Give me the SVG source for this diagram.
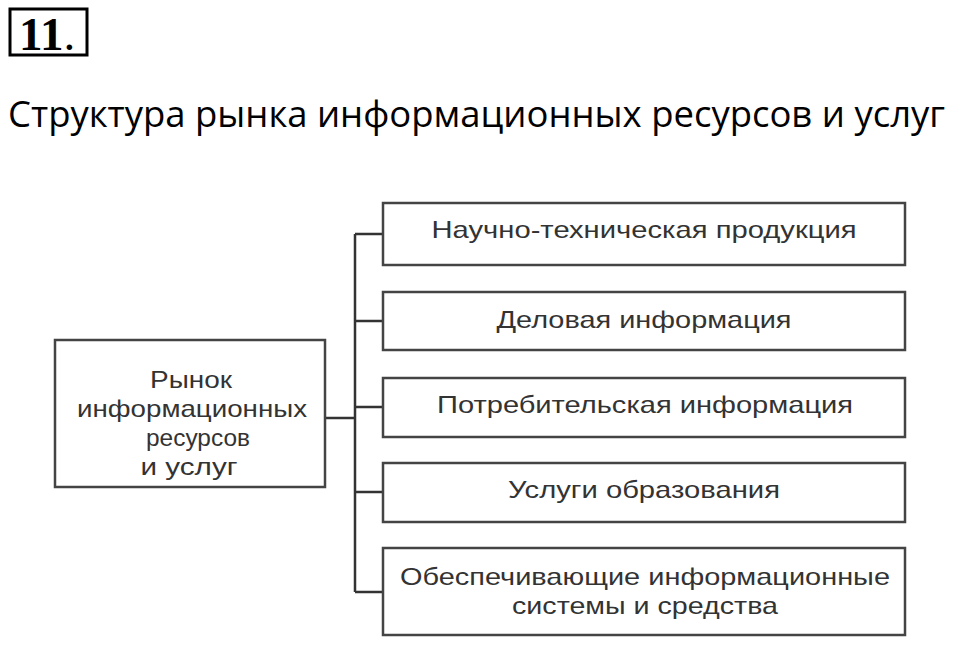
<svg xmlns="http://www.w3.org/2000/svg" width="960" height="669" viewBox="0 0 960 669">
<style>
.b{fill:#fff;stroke:#444;stroke-width:2.5}
.t{font-family:"Liberation Sans",Arial,sans-serif;font-size:24px;fill:#333;text-anchor:middle}
.c{stroke:#333;stroke-width:2.5;fill:none}
</style>
<rect width="960" height="669" fill="#fff"/>
<g id="num"><rect x="10" y="9" width="77" height="46" fill="none" stroke="#000" stroke-width="3"/>
<text x="19" y="50" font-family="Liberation Serif,serif" font-size="47" font-weight="bold">11<tspan font-weight="normal">.</tspan></text></g>
<text id="title" x="8" y="127" font-family="Open Sans,sans-serif" font-size="36" textLength="937" lengthAdjust="spacingAndGlyphs" fill="#000">Структура рынка информационных ресурсов и услуг</text>
<g id="connectors">
<path class="c" d="M325 418H355M355 234V592M355 234H383M355 321H383M355 407H383M355 492H383M355 592H383"/>
</g>
<g id="root"><rect class="b" x="55" y="340" width="270" height="147"/>
<text class="t" x="191" y="388" textLength="82" lengthAdjust="spacingAndGlyphs">Рынок</text><text class="t" x="192" y="417" textLength="230" lengthAdjust="spacingAndGlyphs">информационных</text><text class="t" x="198" y="446" textLength="104" lengthAdjust="spacingAndGlyphs">ресурсов</text><text class="t" x="189" y="475" textLength="97" lengthAdjust="spacingAndGlyphs">и услуг</text></g>
<g id="n1"><rect class="b" x="383" y="203" width="522" height="62"/><text class="t" x="644" y="238" textLength="425" lengthAdjust="spacingAndGlyphs">Научно-техническая продукция</text></g>
<g id="n2"><rect class="b" x="383" y="292" width="522" height="58"/><text class="t" x="644" y="328" textLength="295" lengthAdjust="spacingAndGlyphs">Деловая информация</text></g>
<g id="n3"><rect class="b" x="383" y="378" width="522" height="59"/><text class="t" x="645" y="413" textLength="416" lengthAdjust="spacingAndGlyphs">Потребительская информация</text></g>
<g id="n4"><rect class="b" x="383" y="463" width="522" height="59"/><text class="t" x="644" y="498" textLength="272" lengthAdjust="spacingAndGlyphs">Услуги образования</text></g>
<g id="n5"><rect class="b" x="383" y="548" width="522" height="87"/><text class="t" x="645" y="585" textLength="490" lengthAdjust="spacingAndGlyphs">Обеспечивающие информационные</text><text class="t" x="645" y="614" textLength="266" lengthAdjust="spacingAndGlyphs">системы и средства</text></g>
</svg>
